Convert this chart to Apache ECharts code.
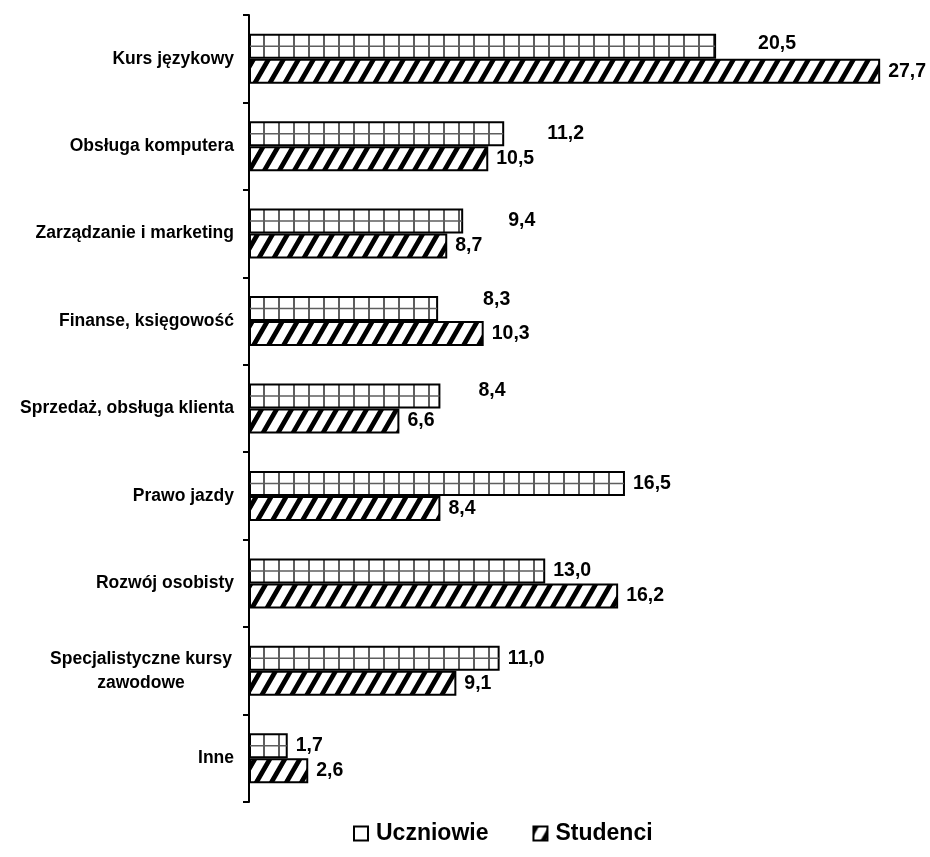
<!DOCTYPE html>
<html>
<head>
<meta charset="utf-8">
<style>
  html, body { margin: 0; padding: 0; background: #fff; }
  #chart { width: 930px; height: 857px; }
</style>
<script src="https://cdn.jsdelivr.net/npm/echarts@6/dist/echarts.min.js"></script>
</head>
<body>
<div id="chart"></div>
<script>
// Forms of training chosen by pupils and students (%)
const categories = [
  'Kurs językowy',
  'Obsługa komputera',
  'Zarządzanie i marketing',
  'Finanse, księgowość',
  'Sprzedaż, obsługa klienta',
  'Prawo jazdy',
  'Rozwój osobisty',
  'Specjalistyczne kursy\nzawodowe',
  'Inne'
];
const seriesNames = ['Uczniowie', 'Studenci'];
const uczniowie = [20.5, 11.2, 9.4, 8.3, 8.4, 16.5, 13.0, 11.0, 1.7];
const studenci = [27.7, 10.5, 8.7, 10.3, 6.6, 8.4, 16.2, 9.1, 2.6];

// Extra label shift [dx, dy] for the pupils' value labels
const uczniowieLabelShift = [[34, -3], [35, 0], [37, 0], [37, -9], [30, -5], [0, 0], [0, 0], [0, 0], [0, 0]];

const FONT = '"Liberation Sans", Arial, sans-serif';
const BAR_SHARE = 0.286;   // bar thickness as share of a category band

// Grid fill: white with grey vertical rules
function gridTile() {
  const c = document.createElement('canvas');
  c.width = 15; c.height = 4;
  const g = c.getContext('2d');
  g.fillStyle = '#fff';
  g.fillRect(0, 0, 15, 4);
  g.fillStyle = '#5e5e5e';
  g.fillRect(8, 0, 2, 4);
  return c;
}

// Diagonal hatch fill: black "/" stripes on white, built pixel by pixel
// (4x4 supersampling) so the tile repeats without seams
function hatchTile() {
  const w = 15, h = 26, stripe = 5.5, ss = 4;
  const c = document.createElement('canvas');
  c.width = w; c.height = h;
  const g = c.getContext('2d');
  const img = g.createImageData(w, h);
  for (let y = 0; y < h; y++) {
    for (let x = 0; x < w; x++) {
      let cover = 0;
      for (let sy = 0; sy < ss; sy++) {
        for (let sx = 0; sx < ss; sx++) {
          const px = x + (sx + 0.5) / ss;
          const py = y + (sy + 0.5) / ss;
          let d = (px + py * w / h) % w;
          if (d < 0) d += w;
          if (d < stripe) cover++;
        }
      }
      const v = Math.round(255 * (1 - cover / (ss * ss)));
      const o = (y * w + x) * 4;
      img.data[o] = v; img.data[o + 1] = v; img.data[o + 2] = v; img.data[o + 3] = 255;
    }
  }
  g.putImageData(img, 0, 0);
  return c;
}

const fmt = v => v.toFixed(1).replace('.', ',');

const labelBase = {
  show: true,
  position: 'right',
  distance: 8,
  color: '#000',
  fontFamily: FONT,
  fontWeight: 'bold',
  fontSize: 19.5,
  formatter: p => fmt(p.value)
};

const uczData = uczniowie.map((v, i) => ({
  value: v,
  label: { offset: uczniowieLabelShift[i] }
}));

const chart = echarts.init(document.getElementById('chart'), null, { renderer: 'canvas' });

chart.setOption({
  animation: false,
  backgroundColor: '#fff',
  grid: {
    left: 249, top: 15, height: 787, right: 43,
    containLabel: false,
    outerBoundsMode: 'none'
  },
  legend: {
    left: 348,
    top: 817,
    itemWidth: 14,
    itemHeight: 14,
    itemGap: 44,
    icon: 'rect',
    textStyle: {
      fontFamily: FONT, fontWeight: 'bold', fontSize: 23, color: '#000',
      padding: [0, 0, 0, 3]
    },
    data: [
      { name: seriesNames[0], itemStyle: { color: '#fff', borderColor: '#000', borderWidth: 2 } },
      { name: seriesNames[1], itemStyle: { borderColor: '#000', borderWidth: 2 } }
    ]
  },
  xAxis: {
    type: 'value',
    min: 0,
    max: 28,
    show: false
  },
  yAxis: {
    type: 'category',
    inverse: true,
    data: categories,
    axisLine: { show: true, lineStyle: { color: '#000', width: 2 } },
    axisTick: { show: true, length: 6, lineStyle: { color: '#000', width: 2 } },
    splitLine: { show: false },
    axisLabel: {
      margin: 15,
      color: '#000',
      fontFamily: FONT,
      fontWeight: 'bold',
      fontSize: 17.5,
      lineHeight: 24,
      formatter: v => v.indexOf('\n') >= 0
        ? v.split('\n').map(s => '{c|' + s + '}').join('\n')
        : v,
      rich: {
        c: {
          width: 186, align: 'center', color: '#000',
          fontFamily: FONT, fontWeight: 'bold', fontSize: 17.5, lineHeight: 24
        }
      }
    }
  },
  series: [
    {
      name: seriesNames[0],
      type: 'bar',
      data: uczData,
      barWidth: (BAR_SHARE * 100) + '%',
      barGap: '0%',
      itemStyle: {
        color: { image: gridTile(), repeat: 'repeat' },
        borderColor: '#000',
        borderWidth: 2
      },
      label: labelBase
    },
    {
      name: seriesNames[1],
      type: 'bar',
      data: studenci,
      barWidth: (BAR_SHARE * 100) + '%',
      barGap: '0%',
      itemStyle: {
        color: { image: hatchTile(), repeat: 'repeat' },
        borderColor: '#000',
        borderWidth: 2
      },
      label: labelBase
    },
    {
      // middle rule of the grid fill in each pupils' bar
      type: 'custom',
      silent: true,
      z: 5,
      encode: { x: 0, y: 1 },
      data: uczniowie.map((v, i) => [v, i]),
      renderItem: (params, api) => {
        const idx = api.value(1);
        const p0 = api.coord([0, idx]);
        const p1 = api.coord([api.value(0), idx]);
        const band = api.size([0, 1])[1];
        const y = p0[1] - band * BAR_SHARE / 2;
        return {
          type: 'line',
          shape: { x1: p0[0] + 1, y1: y, x2: p1[0] - 1, y2: y },
          style: { stroke: '#5e5e5e', lineWidth: 1.5 }
        };
      }
    }
  ]
});
</script>
</body>
</html>
